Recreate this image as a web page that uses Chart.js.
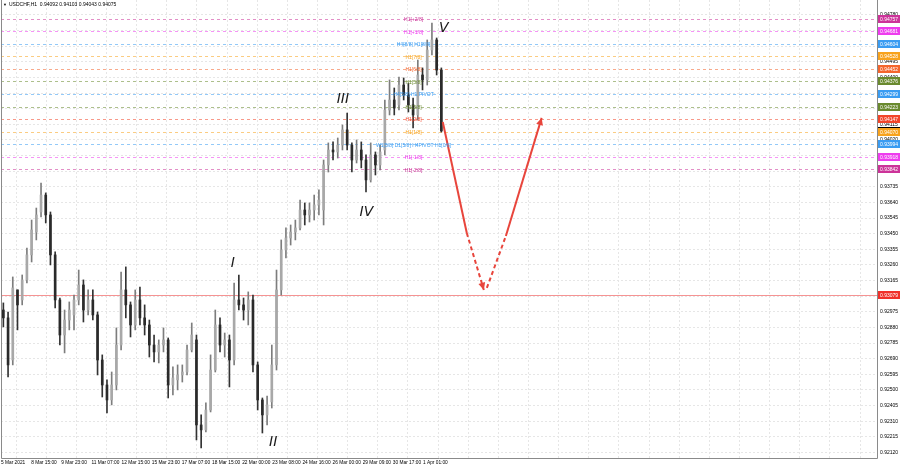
<!DOCTYPE html>
<html>
<head>
<meta charset="utf-8">
<script src="https://cdn.jsdelivr.net/npm/chart.js@4.4.1/dist/chart.umd.min.js"></script>
<style>
  html, body { margin: 0; padding: 0; background: #fff; }
  #wrap { width: 900px; height: 468px; }
</style>
</head>
<body>
<div id="wrap"><canvas id="chart"></canvas></div>
<script>
// USDCHF H1, one candle = 5 hourly bars
const open = [
  .92986,.92938,.92682,.93108,.93047,.93169,.93321,.93460,.93582,.93685,
  .93564,.93321,.93047,.92834,.92925,.92956,.93047,.93138,.92986,.93047,
  .92956,.92682,.92530,.92439,.92530,.92773,.93108,.93017,.92895,.93047,
  .92938,.92895,.92773,.92731,.92773,.92804,.92530,.92561,.92591,.92609,
  .92743,.92804,.92287,.92257,.92378,.92621,.92895,.92773,.92804,.92682,
  .93047,.93017,.92986,.93047,.92652,.92439,.92348,.92427,.92652,.93108,
  .93351,.93424,.93460,.93485,.93594,.93564,.93594,.93625,.93594,.93868,
  .93959,.93947,.93989,.94081,.93989,.93898,.93959,.93898,.93777,.93929,
  .93868,.93959,.94202,.94263,.94233,.94354,.94293,.94233,.94172,.94415,
  .94385,.94567,.94628,.94445]
const high = [
  .93029,.92974,.93187,.93108,.93199,.93363,.93533,.93606,.93758,.93698,
  .93582,.93339,.93059,.92986,.93035,.93077,.93229,.93169,.93108,.93108,
  .92974,.92713,.92561,.92609,.92877,.93217,.93248,.93035,.93108,.93126,
  .93017,.92925,.92834,.92804,.92877,.92816,.92640,.92652,.92652,.92773,
  .92907,.92834,.92348,.92421,.92713,.92986,.92938,.92846,.92834,.93150,
  .93199,.93059,.93096,.93077,.92670,.92451,.92463,.92773,.93229,.93412,
  .93485,.93503,.93533,.93655,.93637,.93637,.93685,.93716,.93898,.94002,
  .94008,.94032,.94111,.94184,.94002,.94020,.94008,.93929,.94002,.93947,
  .93989,.94263,.94385,.94336,.94403,.94397,.94366,.94275,.94506,.94458,
  .94628,.94731,.94640,.94458]
const low = [
  .92883,.92579,.92652,.92865,.93017,.93150,.93278,.93412,.93552,.93515,
  .93260,.92998,.92773,.92725,.92865,.92865,.93017,.92913,.92956,.92925,
  .92591,.92457,.92360,.92409,.92500,.92743,.92938,.92822,.92865,.92895,
  .92834,.92700,.92670,.92664,.92731,.92451,.92469,.92500,.92548,.92591,
  .92731,.92196,.92147,.92244,.92366,.92609,.92731,.92700,.92518,.92652,
  .92986,.92925,.92895,.92609,.92378,.92238,.92287,.92390,.92621,.93077,
  .93302,.93381,.93412,.93473,.93503,.93521,.93533,.93564,.93503,.93825,
  .93898,.93910,.93959,.93959,.93825,.93880,.93850,.93704,.93764,.93807,
  .93837,.93929,.94172,.94172,.94202,.94263,.94190,.94093,.94141,.94324,
  .94354,.94537,.94415,.94068]
const close = [
  .92938,.92652,.93120,.93017,.93169,.93321,.93473,.93564,.93685,.93564,
  .93321,.93047,.92834,.92925,.92986,.93047,.93138,.92986,.93047,.92956,
  .92682,.92530,.92439,.92530,.92773,.93108,.93017,.92895,.93047,.92938,
  .92895,.92773,.92731,.92773,.92804,.92530,.92573,.92591,.92609,.92743,
  .92834,.92287,.92257,.92378,.92621,.92895,.92773,.92804,.92682,.93047,
  .93017,.92986,.93047,.92652,.92439,.92348,.92409,.92652,.93108,.93351,
  .93424,.93460,.93485,.93594,.93564,.93594,.93625,.93655,.93868,.93959,
  .93947,.93989,.94081,.93989,.93898,.93959,.93898,.93777,.93929,.93868,
  .93947,.94202,.94263,.94214,.94354,.94293,.94233,.94172,.94415,.94385,
  .94567,.94628,.94445,.94075]
const barsPerCandle = 5

// price ticks on the right
const yTicks = [0.92120,0.92215,0.92310,0.92405,0.92500,0.92595,0.92690,0.92785,0.92880,0.92975,
  0.93070,0.93165,0.93260,0.93355,0.93450,0.93545,0.93640,0.93735,0.93830,0.93925,
  0.94020,0.94115,0.94210,0.94305,0.94400,0.94495,0.94590,0.94685,0.94780]

// time ticks (hour index), grid goes on into the empty future part
const xTickPos = [0,32,64,96,128,160,192,224,256,288,320,352,384,416,448,
  480,512,544,576,608,640,672,704,736,768,800,832,864,896,928]
const xLabels = ['5 Mar 2021','8 Mar 15:00','9 Mar 23:00','11 Mar 07:00','12 Mar 15:00','15 Mar 23:00',
  '17 Mar 07:00','18 Mar 15:00','22 Mar 00:00','23 Mar 08:00','24 Mar 16:00','26 Mar 00:00',
  '29 Mar 09:00','30 Mar 17:00','1 Apr 01:00']

// murrey levels
const levelValues = [0.94757,0.94681,0.94604,0.94528,0.94452,0.94376,0.94299,0.94223,0.94147,0.94070,0.93994,0.93918,0.93842]
const levelNames = ['H1[+2/8]','H1[+1/8]','H4[8/8] H1[8/8]','H1[7/8]','H1[6/8]','H1[5/8]','H4[5/8] H1 PIVOT',
  'H1[3/8]','H1[2/8]','H1[1/8]','W1[5/8] D1[5/8] H4PIVOT H1[0/8]','H1[-1/8]','H1[-2/8]']
const levelColors = ['#cc3399','#ee3cee','#3a9cf2','#f8a21c','#f4652d','#6a8a2e','#3a9cf2','#6a8a2e','#f2452a','#f8a21c','#3a9cf2','#ee3cee','#cc3399']
const supportLevel = 0.93079
const lastPrice = 0.94075
const titleText = 'USDCHF,H1  0.94092 0.94103 0.94043 0.94075'

// projected path (hour index, price)
const projDownX = [469, 494.5, 512.6]
const projDownY = [0.94129, 0.93454, 0.93108]
const projUpX = [515.8, 536, 574]
const projUpY = [0.93120, 0.93436, 0.94154]

// elliott wave marks
const waveMarks = [
  { text: 'V', x: 470, y: 0.94701 },
  { text: 'III', x: 363, y: 0.94269 },
  { text: 'IV', x: 388, y: 0.93582 },
  { text: 'I', x: 246, y: 0.93272 },
  { text: 'II', x: 289, y: 0.92184 }
]

const candleX = open.map((_, i) => i * barsPerCandle + barsPerCandle / 2)
const wicks = candleX.map((x, i) => ({ x: x, y: [low[i], high[i]] }))
const bodies = candleX.map((x, i) => ({ x: x, y: [open[i], close[i]] }))
const isBull = i => close[i] >= open[i]
const arrowRed = '#e8453c'

const overlay = {
  id: 'overlay',
  beforeDraw(chart) {
    const c = chart.ctx
    c.save()
    c.fillStyle = '#fff'
    c.fillRect(0, 0, chart.width, chart.height)
    c.restore()
  },
  beforeDatasetsDraw(chart) {
    const c = chart.ctx, a = chart.chartArea, y = chart.scales.y
    c.save()
    c.lineWidth = 1
    levelValues.forEach((v, i) => {
      const py = Math.round(y.getPixelForValue(v)) + 0.5
      c.strokeStyle = levelColors[i]
      c.globalAlpha = 0.55
      c.setLineDash([3, 3])
      c.beginPath(); c.moveTo(a.left, py); c.lineTo(a.right, py); c.stroke()
    })
    c.globalAlpha = 1
    c.setLineDash([])
    c.strokeStyle = '#f59393'
    const sy = Math.round(y.getPixelForValue(supportLevel)) + 0.5
    c.beginPath(); c.moveTo(a.left, sy); c.lineTo(a.right, sy); c.stroke()
    c.restore()
  },
  afterDatasetsDraw(chart) {
    const c = chart.ctx, a = chart.chartArea, x = chart.scales.x, y = chart.scales.y
    c.save()
    // level names
    c.font = '5px Arial'
    c.textAlign = 'center'
    c.textBaseline = 'middle'
    const tx = x.getPixelForValue(438)
    levelValues.forEach((v, i) => {
      c.fillStyle = levelColors[i]
      c.fillText(levelNames[i], tx, y.getPixelForValue(v) + 1)
    })
    // wave marks
    c.font = 'italic 14px "DejaVu Sans"'
    c.fillStyle = '#1a1a1a'
    waveMarks.forEach(m => c.fillText(m.text, x.getPixelForValue(m.x), y.getPixelForValue(m.y)))
    // arrow heads
    const head = (xs, ys) => {
      const n = xs.length
      const x1 = x.getPixelForValue(xs[n - 1]), y1 = y.getPixelForValue(ys[n - 1])
      const x0 = x.getPixelForValue(xs[n - 2]), y0 = y.getPixelForValue(ys[n - 2])
      const ang = Math.atan2(y1 - y0, x1 - x0)
      c.fillStyle = arrowRed
      c.beginPath()
      c.moveTo(x1, y1)
      c.lineTo(x1 - 8 * Math.cos(ang - 0.45), y1 - 8 * Math.sin(ang - 0.45))
      c.lineTo(x1 - 8 * Math.cos(ang + 0.45), y1 - 8 * Math.sin(ang + 0.45))
      c.closePath(); c.fill()
    }
    head(projDownX, projDownY)
    head(projUpX, projUpY)
    // frame
    c.strokeStyle = '#8a8a8a'
    c.lineWidth = 1
    c.beginPath()
    c.moveTo(a.left + 0.5, a.top); c.lineTo(a.left + 0.5, a.bottom + 0.5)
    c.lineTo(a.right + 0.5, a.bottom + 0.5); c.lineTo(a.right + 0.5, a.top)
    c.stroke()
    c.restore()
  },
  afterDraw(chart) {
    const c = chart.ctx, a = chart.chartArea, y = chart.scales.y
    c.save()
    c.font = '5px Arial'
    c.textBaseline = 'middle'
    c.textAlign = 'left'
    const box = (v, bg) => {
      const py = Math.round(y.getPixelForValue(v))
      c.fillStyle = bg
      c.fillRect(a.right + 1, py - 4, 22, 8)
      c.fillStyle = '#fff'
      c.fillText(v.toFixed(5), a.right + 3, py + 0.5)
    }
    box(supportLevel, '#f0302a')
    box(lastPrice, '#000')
    levelValues.forEach((v, i) => box(v, levelColors[i]))
    // title
    c.fillStyle = '#000'
    c.font = '4px Arial'
    c.fillText('\u25BC', 3, 5)
    c.font = '5px Arial'
    c.fillText(titleText, 9, 5)
    c.restore()
  }
}

new Chart(document.getElementById('chart'), {
  data: {
    datasets: [
      {
        type: 'bar', label: 'wick', data: wicks, grouped: false, barThickness: 1, minBarLength: 1,
        backgroundColor: ctx => isBull(ctx.dataIndex) ? '#7d7d7d' : '#333', order: 2
      },
      {
        type: 'bar', label: 'body', data: bodies, grouped: false, barThickness: 2, minBarLength: 1,
        backgroundColor: ctx => isBull(ctx.dataIndex) ? '#a8a8a8' : '#2a2a2a', order: 1
      },
      {
        type: 'line', label: 'down', data: projDownX.map((v, i) => ({ x: v, y: projDownY[i] })),
        borderColor: arrowRed, borderWidth: 2, pointRadius: 0, order: 0,
        segment: { borderDash: ctx => ctx.p0DataIndex === 1 ? [4, 3] : undefined }
      },
      {
        type: 'line', label: 'up', data: projUpX.map((v, i) => ({ x: v, y: projUpY[i] })),
        borderColor: arrowRed, borderWidth: 2, pointRadius: 0, order: 0,
        segment: { borderDash: ctx => ctx.p0DataIndex === 0 ? [4, 3] : undefined }
      }
    ]
  },
  options: {
    responsive: true,
    maintainAspectRatio: false,
    animation: false,
    layout: { padding: { left: 1, right: 0, top: 0, bottom: 0 } },
    plugins: { legend: { display: false }, tooltip: { enabled: false } },
    scales: {
      x: {
        type: 'linear', min: 0, max: 930, offset: false,
        afterBuildTicks: s => { s.ticks = xTickPos.map(v => ({ value: v })) },
        afterFit: s => { s.height = 10; s.paddingLeft = 0; s.paddingRight = 0 },
        ticks: {
          autoSkip: false, maxRotation: 0, align: 'start', padding: 2, color: '#000',
          font: { size: 4.8, family: 'Arial' },
          callback: v => { const k = xTickPos.indexOf(v); return k >= 0 && k < xLabels.length ? xLabels[k] : '' }
        },
        grid: { color: '#e6e6e6', drawTicks: false },
        border: { display: false, dash: [2, 2] }
      },
      y: {
        position: 'right', min: 0.92086, max: 0.94871,
        afterBuildTicks: s => { s.ticks = yTicks.map(v => ({ value: v })) },
        afterFit: s => { s.width = 23; s.paddingTop = 0; s.paddingBottom = 0 },
        ticks: {
          autoSkip: false, padding: 3, color: '#000',
          font: { size: 5, family: 'Arial' },
          callback: v => v.toFixed(5)
        },
        grid: { color: '#e6e6e6', drawTicks: false },
        border: { display: false, dash: [2, 2] }
      }
    }
  },
  plugins: [overlay]
})
</script>
</body>
</html>
